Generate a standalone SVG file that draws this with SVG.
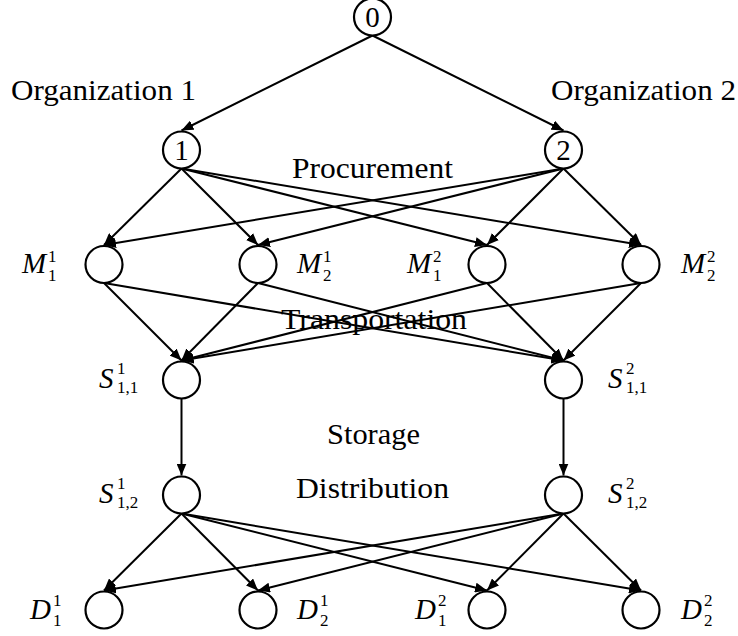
<svg xmlns="http://www.w3.org/2000/svg" width="738" height="636" viewBox="0 0 738 636">
<style>
.n{fill:#fff;stroke:#000;stroke-width:2.2}
.e line{stroke:#000;stroke-width:2;marker-end:url(#a)}
.t{font-family:"Liberation Serif","DejaVu Serif","Times New Roman",serif;font-size:29px;fill:#000}
.c{text-anchor:middle}
.m{font-family:"Liberation Serif","DejaVu Serif","Times New Roman",serif;font-style:italic;font-size:29px;fill:#000}
.s{font-family:"Liberation Serif","DejaVu Serif","Times New Roman",serif;font-size:17px;fill:#000}
</style>
<defs>
<marker id="a" markerUnits="userSpaceOnUse" markerWidth="13" markerHeight="10" refX="12" refY="5" orient="auto">
<path d="M0,0 L12,5 L0,10 z" fill="#000"/>
</marker>
</defs>
<rect width="738" height="636" fill="#fff"/>
<g id="edges" class="e">
<line x1="372.5" y1="35.5" x2="181.5" y2="130.5"/>
<line x1="372.5" y1="35.5" x2="563.5" y2="130.5"/>
<line x1="181.5" y1="168.5" x2="104" y2="245"/>
<line x1="181.5" y1="168.5" x2="258" y2="245"/>
<line x1="181.5" y1="168.5" x2="487" y2="245"/>
<line x1="181.5" y1="168.5" x2="641" y2="245"/>
<line x1="563.5" y1="168.5" x2="104" y2="245"/>
<line x1="563.5" y1="168.5" x2="258" y2="245"/>
<line x1="563.5" y1="168.5" x2="487" y2="245"/>
<line x1="563.5" y1="168.5" x2="641" y2="245"/>
<line x1="104" y1="283" x2="181.5" y2="360.5"/>
<line x1="104" y1="283" x2="563.5" y2="360.5"/>
<line x1="258" y1="283" x2="181.5" y2="360.5"/>
<line x1="258" y1="283" x2="563.5" y2="360.5"/>
<line x1="487" y1="283" x2="181.5" y2="360.5"/>
<line x1="487" y1="283" x2="563.5" y2="360.5"/>
<line x1="641" y1="283" x2="181.5" y2="360.5"/>
<line x1="641" y1="283" x2="563.5" y2="360.5"/>
<line x1="181.5" y1="398.5" x2="181.5" y2="475.5"/>
<line x1="563.5" y1="398.5" x2="563.5" y2="475.5"/>
<line x1="181.5" y1="513.5" x2="104" y2="590.5"/>
<line x1="181.5" y1="513.5" x2="258" y2="590.5"/>
<line x1="181.5" y1="513.5" x2="487" y2="590.5"/>
<line x1="181.5" y1="513.5" x2="641" y2="590.5"/>
<line x1="563.5" y1="513.5" x2="104" y2="590.5"/>
<line x1="563.5" y1="513.5" x2="258" y2="590.5"/>
<line x1="563.5" y1="513.5" x2="487" y2="590.5"/>
<line x1="563.5" y1="513.5" x2="641" y2="590.5"/>
</g>
<g id="labels">
<text class="t" x="11" y="100" textLength="185" lengthAdjust="spacingAndGlyphs">Organization 1</text>
<text class="t" x="551" y="100" textLength="185" lengthAdjust="spacingAndGlyphs">Organization 2</text>
<text class="t" x="292" y="178" textLength="161" lengthAdjust="spacingAndGlyphs">Procurement</text>
<text class="t" x="281" y="329" textLength="186" lengthAdjust="spacingAndGlyphs">Transportation</text>
<text class="t" x="327" y="444" textLength="93" lengthAdjust="spacingAndGlyphs">Storage</text>
<text class="t" x="296" y="498" textLength="153" lengthAdjust="spacingAndGlyphs">Distribution</text>
</g>
<g id="n0"><circle class="n" cx="372.5" cy="17" r="18.5"/><text class="t c" x="372.5" y="27">0</text></g>
<g id="n1"><circle class="n" cx="181.5" cy="150" r="18.5"/><text class="t c" x="181.5" y="160">1</text></g>
<g id="n2"><circle class="n" cx="563.5" cy="150" r="18.5"/><text class="t c" x="563.5" y="160">2</text></g>
<g id="M11"><circle class="n" cx="104" cy="264.5" r="18.5"/><text class="m" x="22" y="273">M</text><text class="s" x="48" y="262">1</text><text class="s" x="48" y="281">1</text></g>
<g id="M21"><circle class="n" cx="258" cy="264.5" r="18.5"/><text class="m" x="297" y="273">M</text><text class="s" x="323" y="262">1</text><text class="s" x="323" y="281">2</text></g>
<g id="M12"><circle class="n" cx="487" cy="264.5" r="18.5"/><text class="m" x="407" y="273">M</text><text class="s" x="433" y="262">2</text><text class="s" x="433" y="281">1</text></g>
<g id="M22"><circle class="n" cx="641" cy="264.5" r="18.5"/><text class="m" x="681" y="273">M</text><text class="s" x="707" y="262">2</text><text class="s" x="707" y="281">2</text></g>
<g id="S111"><circle class="n" cx="181.5" cy="380" r="18.5"/><text class="m" x="99" y="388">S</text><text class="s" x="117" y="374">1</text><text class="s" x="117" y="393">1,1</text></g>
<g id="S112"><circle class="n" cx="563.5" cy="380" r="18.5"/><text class="m" x="608" y="388">S</text><text class="s" x="626" y="374">2</text><text class="s" x="626" y="393">1,1</text></g>
<g id="S121"><circle class="n" cx="181.5" cy="495" r="18.5"/><text class="m" x="99" y="503">S</text><text class="s" x="117" y="489">1</text><text class="s" x="117" y="508">1,2</text></g>
<g id="S122"><circle class="n" cx="563.5" cy="495" r="18.5"/><text class="m" x="608" y="503">S</text><text class="s" x="626" y="489">2</text><text class="s" x="626" y="508">1,2</text></g>
<g id="D11"><circle class="n" cx="104" cy="610" r="18.5"/><text class="m" x="30" y="619">D</text><text class="s" x="53" y="606">1</text><text class="s" x="53" y="626">1</text></g>
<g id="D21"><circle class="n" cx="258" cy="610" r="18.5"/><text class="m" x="297" y="619">D</text><text class="s" x="320" y="606">1</text><text class="s" x="320" y="626">2</text></g>
<g id="D12"><circle class="n" cx="487" cy="610" r="18.5"/><text class="m" x="415" y="619">D</text><text class="s" x="438" y="606">2</text><text class="s" x="438" y="626">1</text></g>
<g id="D22"><circle class="n" cx="641" cy="610" r="18.5"/><text class="m" x="681" y="619">D</text><text class="s" x="704" y="606">2</text><text class="s" x="704" y="626">2</text></g>
</svg>
